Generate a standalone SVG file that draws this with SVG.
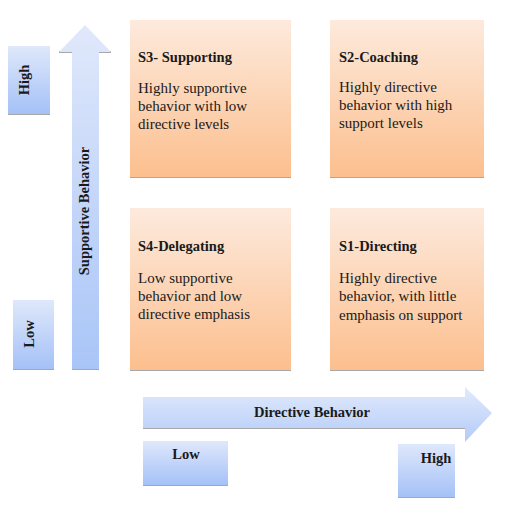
<svg xmlns="http://www.w3.org/2000/svg" width="524" height="513" viewBox="0 0 524 513">
<defs>
<linearGradient id="peach" x1="0" y1="0" x2="0" y2="1">
<stop offset="0" stop-color="#fdeadd"/>
<stop offset="1" stop-color="#fcbf8e"/>
</linearGradient>
<linearGradient id="blue" x1="0" y1="0" x2="0" y2="1">
<stop offset="0" stop-color="#dfe8fb"/>
<stop offset="1" stop-color="#a4c1f7"/>
</linearGradient>
<linearGradient id="vblue" x1="0" y1="0" x2="0" y2="1">
<stop offset="0" stop-color="#e0e8fb"/>
<stop offset="1" stop-color="#a9c5f7"/>
</linearGradient>
<linearGradient id="hblue" x1="0" y1="0" x2="0" y2="1">
<stop offset="0" stop-color="#e2eafc"/>
<stop offset="1" stop-color="#b3cbf8"/>
</linearGradient>
</defs>
<style>
.box{fill:url(#peach)}
.bbox{fill:url(#blue)}
.shadow{fill:#a8a8a8}
.t{font-family:"Liberation Serif","DejaVu Serif",serif;font-size:14.5px;fill:#1a1a1a}
.b{font-weight:bold}
.body{font-size:15px}
</style>
<rect width="524" height="513" fill="#ffffff"/>
<g id="connectors">
<g id="vertical-arrow">
<rect class="shadow" x="72" y="368" width="27" height="2"/>
<rect class="shadow" x="59" y="51" width="13" height="2"/>
<rect class="shadow" x="99" y="51" width="12" height="2"/>
<path d="M72,369 L72,52 L59,52 L85,25 L111,52 L99,52 L99,369 Z" fill="url(#vblue)"/>
<text class="t b" transform="translate(89,211) rotate(-90)" text-anchor="middle">Supportive  Behavior</text>
</g>
<g id="horizontal-arrow">
<rect class="shadow" x="143" y="427" width="322" height="2"/>
<path d="M143,397 L465,397 L465,387 L492,413 L465,442 L465,428 L143,428 Z" fill="url(#hblue)"/>
<text class="t b" x="312" y="417" text-anchor="middle">Directive  Behavior</text>
</g>
</g>
<g id="high-left">
<rect class="shadow" x="8" y="113" width="42" height="2"/>
<rect class="bbox" x="8" y="46" width="42" height="68"/>
<text class="t b" transform="translate(29,80) rotate(-90)" text-anchor="middle">High</text>
</g>
<g id="low-left">
<rect class="shadow" x="13" y="368" width="41" height="2"/>
<rect class="bbox" x="13" y="300" width="41" height="69"/>
<text class="t b" transform="translate(34,334) rotate(-90)" text-anchor="middle">Low</text>
</g>
<g id="low-bottom">
<rect class="shadow" x="143" y="484" width="85" height="2"/>
<rect class="bbox" x="143" y="441" width="85" height="44"/>
<text class="t b" x="186" y="459" text-anchor="middle">Low</text>
</g>
<g id="high-bottom">
<rect class="shadow" x="398" y="496" width="57" height="2"/>
<rect class="bbox" x="398" y="444" width="57" height="53"/>
<text class="t b" x="436" y="463" text-anchor="middle">High</text>
</g>
<g id="s3">
<rect class="shadow" x="130" y="176" width="161" height="2"/>
<rect class="box" x="130" y="20" width="161" height="157"/>
<text class="t b" x="138" y="62">S3- Supporting</text>
<text class="t body" x="138" y="93">Highly supportive</text>
<text class="t body" x="138" y="111">behavior with low</text>
<text class="t body" x="138" y="129">directive levels</text>
</g>
<g id="s2">
<rect class="shadow" x="330" y="176" width="154" height="2"/>
<rect class="box" x="330" y="20" width="154" height="157"/>
<text class="t b" x="339" y="62">S2-Coaching</text>
<text class="t body" x="339" y="92">Highly directive</text>
<text class="t body" x="339" y="110">behavior with high</text>
<text class="t body" x="339" y="128">support levels</text>
</g>
<g id="s4">
<rect class="shadow" x="130" y="369" width="161" height="2"/>
<rect class="box" x="130" y="208" width="161" height="162"/>
<text class="t b" x="138" y="251">S4-Delegating</text>
<text class="t body" x="138" y="283">Low supportive</text>
<text class="t body" x="138" y="301">behavior and low</text>
<text class="t body" x="138" y="319">directive emphasis</text>
</g>
<g id="s1">
<rect class="shadow" x="330" y="369" width="154" height="2"/>
<rect class="box" x="330" y="208" width="154" height="162"/>
<text class="t b" x="339" y="251">S1-Directing</text>
<text class="t body" x="339" y="283">Highly directive</text>
<text class="t body" x="339" y="301">behavior, with little</text>
<text class="t body" x="339" y="320">emphasis on support</text>
</g>
</svg>
